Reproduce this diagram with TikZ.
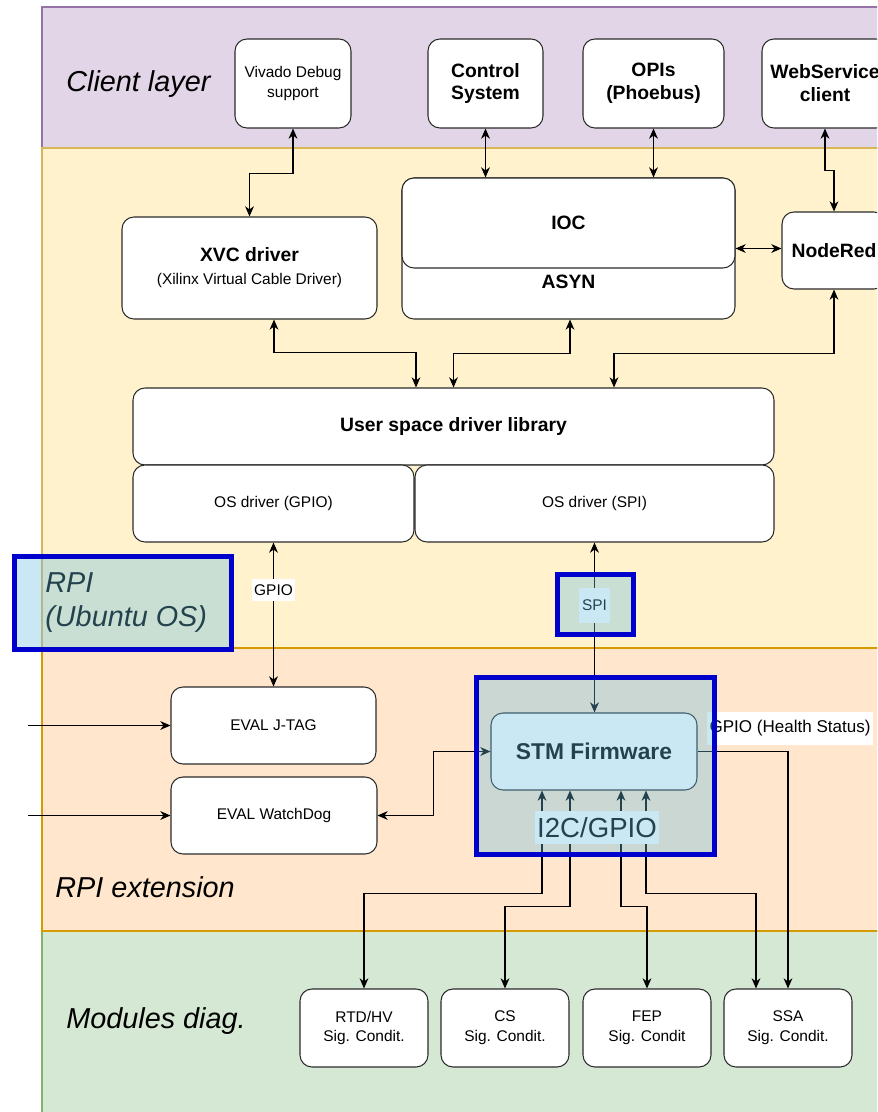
\documentclass[tikz,border=0pt]{standalone}
\usepackage{fontspec}
\setmainfont{Liberation Sans}
\usetikzlibrary{arrows.meta,calc}

\definecolor{clientfill}{HTML}{E1D5E7}
\definecolor{clientline}{HTML}{9673A6}
\definecolor{rpifill}{HTML}{FFF2CC}
\definecolor{rpiline}{HTML}{D6B656}
\definecolor{extfill}{HTML}{FFE6CC}
\definecolor{extline}{HTML}{D79B00}
\definecolor{modfill}{HTML}{D5E8D4}
\definecolor{modline}{HTML}{82B366}
\definecolor{boxline}{HTML}{2B2B2B}
\definecolor{hlblue}{HTML}{0000CC}
\definecolor{hlfill}{HTML}{68BDE2}

% one unit = one pixel of the 877 x 1112 drawing
\def\PX{0.02cm}

\begin{document}
\begin{tikzpicture}[x=0.02cm, y=-0.02cm,
  >={Stealth[length=5.8pt,width=5pt,inset=1.8pt]},
  box/.style={draw=boxline, fill=white, rounded corners=0.24cm, line width=0.6pt,
              align=center, inner sep=1pt},
  sz/.style 2 args={minimum width=#1*\PX, minimum height=#2*\PX},
  reg/.style={font=\fontsize{8.8}{11.3}\selectfont},
  bld/.style={font=\fontsize{11}{13}\selectfont\bfseries},
  layer/.style={font=\fontsize{16.4}{19.3}\selectfont\itshape, anchor=west, inner sep=0pt},
  band/.style={line width=0.85pt},
  arr/.style={->, line width=0.6pt},
  darr/.style={<->, line width=0.6pt},
  lbl/.style={fill=white, inner xsep=1.5pt, inner ysep=1pt},
  hl/.style={draw=hlblue, line width=2.8pt, fill=hlfill, fill opacity=0.35, inner sep=0pt}
]
\useasboundingbox (0,0) rectangle (877,1112);
\clip (0,0) rectangle (877,1112);
\fill[white] (0,0) rectangle (877,1112);

% layer bands
\path[band, fill=clientfill, draw=clientline] (42,7) rectangle (900,148);
\path[band, fill=modfill, draw=modline] (42,931) rectangle (900,1130);
\path[band, fill=rpifill, draw=rpiline] (42,148) rectangle (900,648);
\path[band, fill=extfill, draw=extline] (42,648) rectangle (900,931);

% client layer
\node[layer] (lclient) at (66,84) {Client layer};
\node[box, reg, sz={116}{89}] (viv) at (293,83.5) {Vivado Debug\\support};
\node[box, bld, sz={115}{89}] (cs) at (485.5,83.5) {Control\\System};
\node[box, bld, sz={141}{89}] (opi) at (653.5,83.5) {OPIs\\(Phoebus)};
\node[box, bld, sz={126}{89}] (ws) at (825,83.5) {WebService\\client};

% RPI (Ubuntu OS)
\node[box, sz={255}{102}, font=\fontsize{8.8}{13}\selectfont] (xvc) at (249.5,268)
  {{\fontsize{11}{13}\selectfont\bfseries XVC driver}\\(Xilinx Virtual Cable Driver)};
\node[box, sz={333}{141}] (asyn) at (568.5,248.5) {};
\node[box, bld, sz={333}{90}] (ioc) at (568.5,223) {IOC};
\node[bld] (asyntxt) at (568.5,282) {ASYN};
\node[box, bld, sz={104}{77}] (nr) at (834,250.5) {NodeRed};
\node[box, bld, sz={641}{77}] (usr) at (453.5,426.5) {User space driver library};
\node[box, reg, sz={281}{77}] (osg) at (273.5,503.5) {OS driver (GPIO)};
\node[box, reg, sz={359}{77}] (oss) at (594.5,503.5) {OS driver (SPI)};
\node[layer, align=left] (lrpi) at (45,603) {RPI\\(Ubuntu OS)};

% RPI extension
\node[box, reg, sz={205}{77}] (jtag) at (273.5,725.5) {EVAL J-TAG};
\node[box, reg, sz={206}{77}] (wd) at (274,815.5) {EVAL WatchDog};
\node[box, sz={206}{77}, font=\fontsize{13}{15}\selectfont\bfseries] (stm) at (594,751.5) {STM Firmware};
\node[layer] (lext) at (55,887) {RPI extension};
\coordinate (inJ) at (28,725.5);
\coordinate (inW) at (28,815.5);

% modules diagnostics
\node[layer] (lmod) at (66,1021) {Modules diag.};
\node[box, reg, sz={128}{78}] (rtd) at (364,1028) {RTD/HV\\Sig. Condit.};
\node[box, reg, sz={128}{78}] (cs2) at (505,1028) {CS\\Sig. Condit.};
\node[box, reg, sz={128}{78}] (fep) at (647,1028) {FEP\\Sig. Condit};
\node[box, reg, sz={128}{78}] (ssa) at (788,1028) {SSA\\Sig. Condit.};

% connectors: client layer
\draw[darr] (viv.south) -- ++(0,45) -| (xvc.north);
\draw[darr] (cs.south) -- (cs.south |- ioc.north);
\draw[darr] (opi.south) -- (opi.south |- ioc.north);
\draw[darr] (ws.south) -- ++(0,42) -| (nr.north);
\draw[darr] (asyn.east) -- (asyn.east -| nr.west);

% connectors: to the driver library
\draw[darr] ($(xvc.south)+(24.5,0)$) -- ++(0,33) -| ($(usr.north)+(-37.5,0)$);
\draw[darr] ($(asyn.south)+(1.5,0)$) -- ++(0,34) -| (usr.north);
\draw[darr] (nr.south) -- ++(0,64) -| ($(usr.north)+(160.5,0)$);

% connectors: OS drivers to the extension board
\draw[darr] (osg.south) -- node[lbl, reg, pos=0.33, minimum height=22*\PX] (gpiol) {GPIO} (osg.south |- jtag.north);
\draw[darr] (oss.south) -- node[lbl, reg, pos=0.37, minimum height=35*\PX] (spil) {SPI} (oss.south |- stm.north);
\draw[darr] (stm.west) -- ++(-57,0) |- (wd.east);
\draw[arr] (inJ) -- (jtag.west);
\draw[arr] (inW) -- (wd.west);

% connectors: firmware to the conditioning modules
\draw[arr] (stm.east) -| (ssa.north);
\node[lbl, font=\fontsize{9.7}{11}\selectfont, minimum height=33*\PX] (hs) at (790,728.5) {GPIO (Health Status)};
\draw[darr] ($(stm.south)+(-52,0)$) -- ++(0,103) -| (rtd.north);
\draw[darr] ($(stm.south)+(-24,0)$) -- ++(0,116) -| (cs2.north);
\draw[darr] ($(stm.south)+(27,0)$) -- ++(0,116) -| (fep.north);
\draw[darr] ($(stm.south)+(52,0)$) -- ++(0,103) -| ($(ssa.north)+(-32,0)$);
\node[lbl, font=\fontsize{15.7}{17}\selectfont, inner xsep=1pt, minimum height=33*\PX] (i2c) at (597,827.5) {I2C/GPIO};

% highlight frames
\node[hl, sz={217}{93}] (rpifr) at (123,603) {};
\node[hl, sz={76}{60}] (spifr) at (595.5,604.5) {};
\node[hl, sz={238}{177}] (stmfr) at (595.5,766) {};
\end{tikzpicture}
\end{document}
